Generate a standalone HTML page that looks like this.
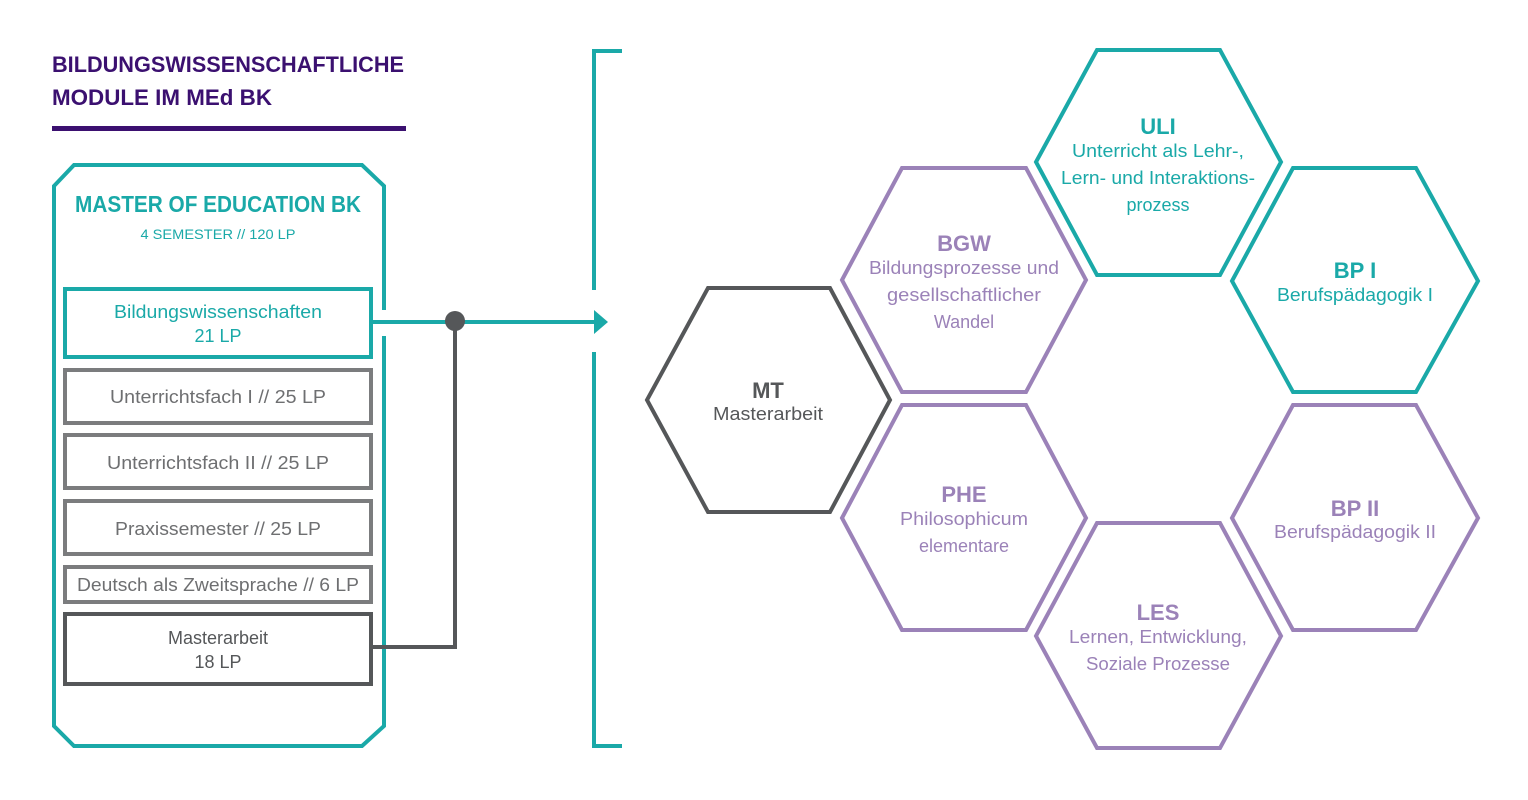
<!DOCTYPE html>
<html><head><meta charset="utf-8"><style>
html,body{margin:0;padding:0;background:#fff;}
svg{display:block;}
text{font-family:"Liberation Sans",sans-serif;}
</style></head><body>
<svg width="1528" height="800" viewBox="0 0 1528 800" xmlns="http://www.w3.org/2000/svg">
<text x="52" y="72" font-size="22" font-weight="bold" fill="#3b1070" textLength="352" lengthAdjust="spacingAndGlyphs">BILDUNGSWISSENSCHAFTLICHE</text>
<text x="52" y="105" font-size="22" font-weight="bold" fill="#3b1070" textLength="220" lengthAdjust="spacingAndGlyphs">MODULE IM MEd BK</text>
<rect x="52" y="126" width="354" height="5" fill="#3b1070"/>
<path d="M384,310 V186 L362,165 H74 L54,186 V726 L74,746 H362 L384,726 V336" fill="none" stroke="#1aa9a8" stroke-width="4"/>
<text x="218" y="212" font-size="23" font-weight="bold" fill="#1aa9a8" text-anchor="middle" textLength="286" lengthAdjust="spacingAndGlyphs">MASTER OF EDUCATION BK</text>
<text x="218" y="239" font-size="14" fill="#1aa9a8" text-anchor="middle" textLength="155" lengthAdjust="spacingAndGlyphs">4 SEMESTER // 120 LP</text>
<rect x="65" y="289" width="306" height="68" fill="none" stroke="#1aa9a8" stroke-width="4"/>
<text x="218" y="318" font-size="18" fill="#1aa9a8" text-anchor="middle" textLength="208" lengthAdjust="spacingAndGlyphs">Bildungswissenschaften</text>
<text x="218" y="342" font-size="18" fill="#1aa9a8" text-anchor="middle">21 LP</text>
<g fill="none" stroke="#7b7c7e" stroke-width="4">
<rect x="65" y="370" width="306" height="53"/>
<rect x="65" y="435" width="306" height="53"/>
<rect x="65" y="501" width="306" height="53"/>
<rect x="65" y="567" width="306" height="35"/>
</g>
<g font-size="18" fill="#6e6f71" text-anchor="middle">
<text x="218" y="403" textLength="216" lengthAdjust="spacingAndGlyphs">Unterrichtsfach I // 25 LP</text>
<text x="218" y="469" textLength="222" lengthAdjust="spacingAndGlyphs">Unterrichtsfach II // 25 LP</text>
<text x="218" y="535" textLength="206" lengthAdjust="spacingAndGlyphs">Praxissemester // 25 LP</text>
<text x="218" y="591" textLength="282" lengthAdjust="spacingAndGlyphs">Deutsch als Zweitsprache // 6 LP</text>
</g>
<rect x="65" y="614" width="306" height="70" fill="none" stroke="#555759" stroke-width="4"/>
<text x="218" y="644" font-size="18" fill="#555759" text-anchor="middle">Masterarbeit</text>
<text x="218" y="668" font-size="18" fill="#555759" text-anchor="middle">18 LP</text>
<path d="M371,322 H596" stroke="#1aa9a8" stroke-width="4"/>
<path d="M594,310 L608,322 L594,334 Z" fill="#1aa9a8"/>
<path d="M371,647 H455 V321" fill="none" stroke="#555759" stroke-width="4"/>
<circle cx="455" cy="321" r="10" fill="#555759"/>
<path d="M622,51 H594 V290 M594,352 V746 H622" fill="none" stroke="#1aa9a8" stroke-width="4"/>
<g fill="none" stroke-width="4">
<polygon points="647,400 708,288 830,288 890,400 830,512 708,512" stroke="#555759"/>
<polygon points="842,280 902,168 1026,168 1086,280 1026,392 902,392" stroke="#9b82b8"/>
<polygon points="1036,162 1097,50 1220,50 1281,162 1220,275 1097,275" stroke="#1aa9a8"/>
<polygon points="1232,281 1293,168 1416,168 1478,281 1416,392 1293,392" stroke="#1aa9a8"/>
<polygon points="842,518 902,405 1026,405 1086,518 1026,630 902,630" stroke="#9b82b8"/>
<polygon points="1036,636 1097,523 1220,523 1281,636 1220,748 1097,748" stroke="#9b82b8"/>
<polygon points="1232,518 1293,405 1416,405 1478,518 1416,630 1293,630" stroke="#9b82b8"/>
</g>
<g text-anchor="middle">
<text x="768" y="398" font-size="22" font-weight="bold" fill="#555759">MT</text>
<text x="768" y="420" font-size="18" fill="#555759" textLength="110" lengthAdjust="spacingAndGlyphs">Masterarbeit</text>
<g fill="#9b82b8">
<text x="964" y="251" font-size="22" font-weight="bold">BGW</text>
<text x="964" y="274" font-size="18" textLength="190" lengthAdjust="spacingAndGlyphs">Bildungsprozesse und</text>
<text x="964" y="301" font-size="18" textLength="154" lengthAdjust="spacingAndGlyphs">gesellschaftlicher</text>
<text x="964" y="328" font-size="18">Wandel</text>
<text x="964" y="502" font-size="22" font-weight="bold">PHE</text>
<text x="964" y="525" font-size="18" textLength="128" lengthAdjust="spacingAndGlyphs">Philosophicum</text>
<text x="964" y="552" font-size="18">elementare</text>
<text x="1158" y="620" font-size="22" font-weight="bold">LES</text>
<text x="1158" y="643" font-size="18" textLength="178" lengthAdjust="spacingAndGlyphs">Lernen, Entwicklung,</text>
<text x="1158" y="670" font-size="18" textLength="144" lengthAdjust="spacingAndGlyphs">Soziale Prozesse</text>
<text x="1355" y="516" font-size="22" font-weight="bold">BP II</text>
<text x="1355" y="538" font-size="18" textLength="162" lengthAdjust="spacingAndGlyphs">Berufspädagogik II</text>
</g>
<g fill="#1aa9a8">
<text x="1158" y="134" font-size="22" font-weight="bold">ULI</text>
<text x="1158" y="157" font-size="18" textLength="172" lengthAdjust="spacingAndGlyphs">Unterricht als Lehr-,</text>
<text x="1158" y="184" font-size="18" textLength="194" lengthAdjust="spacingAndGlyphs">Lern- und Interaktions-</text>
<text x="1158" y="211" font-size="18">prozess</text>
<text x="1355" y="278" font-size="22" font-weight="bold">BP I</text>
<text x="1355" y="301" font-size="18" textLength="156" lengthAdjust="spacingAndGlyphs">Berufspädagogik I</text>
</g>
</g>
</svg>
</body></html>
